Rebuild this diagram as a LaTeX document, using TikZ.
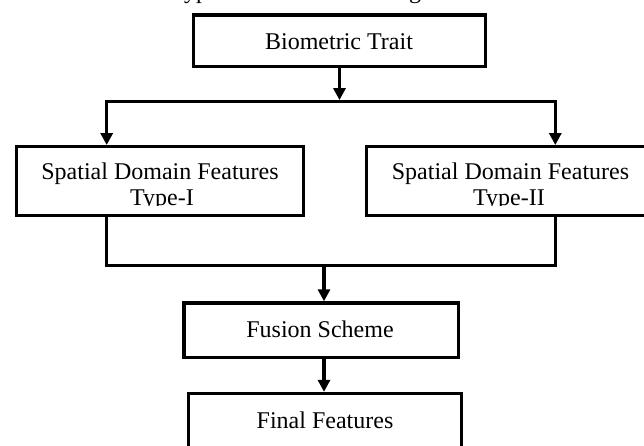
\documentclass[tikz,border=0pt]{standalone}
\usepackage{fontspec}
\setmainfont{Liberation Serif}
\usetikzlibrary{arrows.meta}
\begin{document}
\begin{tikzpicture}[x=1pt,y=-1pt,
  box/.style={draw, line width=3.3pt, rectangle, inner sep=0pt},
  wire/.style={line width=3.3pt, line cap=rect, line join=miter},
  arr/.style={line width=3.3pt, -{Triangle[length=12pt,width=12pt]}},
  lbl/.style={font=\fontsize{24}{25}\selectfont, inner sep=0pt, anchor=base}]
\useasboundingbox (0,0) rectangle (644,446);
\clip (0,0) rectangle (644,446);
\fill[white] (0,0) rectangle (644,446);

% boxes
\node[box, minimum width=292pt, minimum height=51.5pt] (trait) at (339.5,40.75) {};
\node[box, minimum width=286.6pt, minimum height=69pt] (sdf1) at (160,181.2) {};
\node[box, minimum width=286.6pt, minimum height=69pt] (sdf2) at (510,181.2) {};
\node[box, minimum width=274.3pt, minimum height=54.5pt] (fusion) at (321.2,330.2) {};
\node[box, minimum width=273.4pt, minimum height=70pt] (final) at (325,428.5) {};

% junction points
\coordinate (splitL) at (106.7,101.7);
\coordinate (splitR) at (555.3,101.7);
\coordinate (joinL) at (106.7,265.7);
\coordinate (joinR) at (555.3,265.7);
\coordinate (joinC) at (324,265.7);

% connectors
\draw[arr, shorten >=1.6pt] (trait.south) -- (trait.south |- splitL);
\draw[wire] (splitL) -- (splitR);
\draw[arr] (splitL) -- (splitL |- sdf1.north);
\draw[arr] (splitR) -- (splitR |- sdf2.north);
\draw[wire] (splitL |- sdf1.south) -- (joinL) -- (joinR) -- (splitR |- sdf2.south);
\draw[arr] (joinC) -- (joinC |- fusion.north);
\draw[arr] (joinC |- fusion.south) -- (joinC |- final.north);

% labels
\node[lbl] (tTrait) at (339,50) {Biometric Trait};
\node[lbl] (t1a) at (160,180) {Spatial Domain Features};
\node[lbl] (t2a) at (510.5,180) {Spatial Domain Features};
\begin{scope}
  \clip (16.7,146.7) rectangle (653.3,205.5);
  \node[lbl] (t1b) at (162,205) {Type-I};
  \node[lbl] (t2b) at (509,205) {Type-II};
\end{scope}
\node[lbl] (tFus) at (320,337) {Fusion Scheme};
\node[lbl] (tFin) at (325,428) {Final Features};

% caption above, cut by the top edge
\node[lbl, anchor=base west] (capA) at (184,-1) {yp};
\node[lbl, anchor=base west] (capB) at (409,-1) {g};
\end{tikzpicture}
\end{document}
